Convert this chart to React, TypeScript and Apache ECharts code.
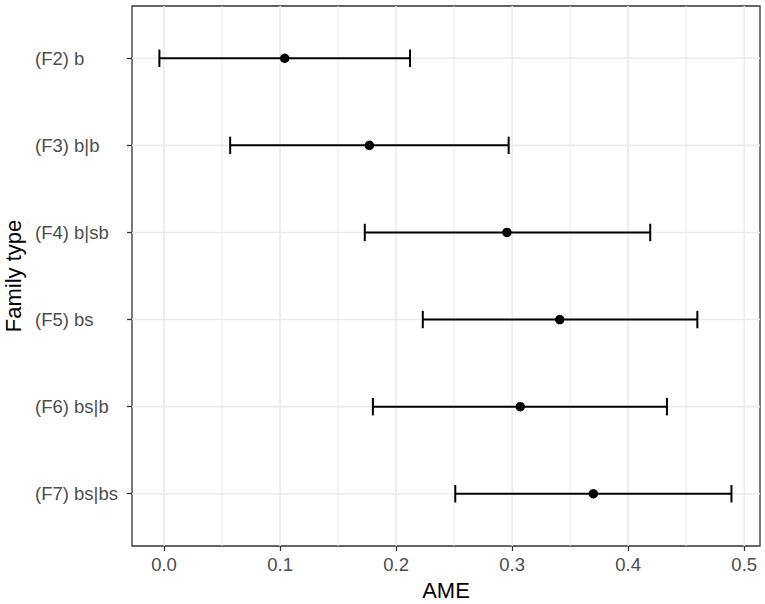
import React, { useEffect, useRef } from "react";
import * as echarts from "echarts";

const categories = ["(F2) b", "(F3) b|b", "(F4) b|sb", "(F5) bs", "(F6) bs|b", "(F7) bs|bs"];
const estimates = [0.104, 0.177, 0.2955, 0.341, 0.307, 0.370];
const lowerCI = [-0.004, 0.057, 0.173, 0.223, 0.180, 0.251];
const upperCI = [0.212, 0.297, 0.419, 0.4596, 0.4334, 0.489];
const xTicks = [0, 0.1, 0.2, 0.3, 0.4, 0.5];
const xMinorTicks = [0.05, 0.15, 0.25, 0.35, 0.45];
const xName = "AME";
const yName = "Family type";

const FONT = "'Liberation Sans', Arial, sans-serif";
const X_MIN = -0.0276;
const X_MAX = 0.5136;
const Y_MIN = -0.6;
const Y_MAX = categories.length - 1 + 0.6;
const CAP = 0.1;

export default function App() {
  const ref = useRef<HTMLDivElement>(null);
  useEffect(() => {
    if (!ref.current) return;
    const chart = echarts.init(ref.current, undefined, { renderer: "svg" });
    const catIdx = categories.map((_, i) => i);
    const vLine = (major: boolean) => (params: any, api: any) => {
      const v = api.value(0);
      const p1 = api.coord([v, Y_MIN]);
      const p2 = api.coord([v, Y_MAX]);
      return {
        type: "line",
        shape: { x1: p1[0], y1: p1[1], x2: p2[0], y2: p2[1] },
        style: { stroke: "#ebebeb", lineWidth: major ? 1.6 : 1 },
      };
    };
    chart.setOption({
      animation: false,
      backgroundColor: "#ffffff",
      grid: {
        left: 132,
        right: 5,
        top: 6,
        bottom: 58,
        show: true,
        borderColor: "#333333",
        borderWidth: 1.3,
        backgroundColor: "transparent",
        containLabel: false,
        outerBoundsMode: "none",
      },
      xAxis: {
        type: "value",
        min: X_MIN,
        max: X_MAX,
        name: xName,
        nameLocation: "middle",
        nameGap: 33,
        nameTextStyle: { fontSize: 22, color: "#000", fontFamily: FONT },
        axisLine: { show: false, onZero: false },
        splitLine: { show: false },
        axisTick: {
          show: true,
          length: 5,
          lineStyle: { color: "#333333", width: 1.3 },
          customValues: xTicks,
        },
        axisLabel: {
          customValues: xTicks,
          fontSize: 18.5,
          color: "#4d4d4d",
          fontFamily: FONT,
          margin: 9,
          formatter: (v: number) => v.toFixed(1),
        },
      },
      yAxis: {
        type: "value",
        min: Y_MIN,
        max: Y_MAX,
        inverse: true,
        name: yName,
        nameLocation: "middle",
        nameGap: 106,
        nameTextStyle: { fontSize: 22, color: "#000", fontFamily: FONT },
        axisLine: { show: false, onZero: false },
        splitLine: { show: false },
        axisTick: {
          show: true,
          length: 5,
          lineStyle: { color: "#333333", width: 1.3 },
          customValues: catIdx,
        },
        axisLabel: {
          customValues: catIdx,
          margin: 7,
          formatter: (v: number) => `{a|${categories[Math.round(v)]}}`,
          rich: {
            a: { width: 90, align: "left", fontSize: 18.5, color: "#4d4d4d", fontFamily: FONT },
          },
        },
      },
      series: [
        {
          type: "custom",
          silent: true,
          z: 1,
          data: xMinorTicks.map((v) => [v]),
          renderItem: vLine(false),
        },
        {
          type: "custom",
          silent: true,
          z: 1,
          data: xTicks.map((v) => [v]),
          renderItem: vLine(true),
        },
        {
          type: "custom",
          silent: true,
          z: 1,
          data: catIdx.map((i) => [i]),
          renderItem: (params: any, api: any) => {
            const i = api.value(0);
            const p1 = api.coord([X_MIN, i]);
            const p2 = api.coord([X_MAX, i]);
            return {
              type: "line",
              shape: { x1: p1[0], y1: p1[1], x2: p2[0], y2: p2[1] },
              style: { stroke: "#ebebeb", lineWidth: 1.6 },
            };
          },
        },
        {
          type: "custom",
          z: 3,
          data: catIdx.map((i) => [i, lowerCI[i], upperCI[i]]),
          renderItem: (params: any, api: any) => {
            const i = api.value(0);
            const lo = api.value(1);
            const hi = api.value(2);
            const a = api.coord([lo, i]);
            const b = api.coord([hi, i]);
            const la = api.coord([lo, i - CAP]);
            const lb = api.coord([lo, i + CAP]);
            const ha = api.coord([hi, i - CAP]);
            const hb = api.coord([hi, i + CAP]);
            const st = { stroke: "#000", lineWidth: 2 };
            return {
              type: "group",
              children: [
                { type: "line", shape: { x1: a[0], y1: a[1], x2: b[0], y2: b[1] }, style: st },
                { type: "line", shape: { x1: la[0], y1: la[1], x2: lb[0], y2: lb[1] }, style: st },
                { type: "line", shape: { x1: ha[0], y1: ha[1], x2: hb[0], y2: hb[1] }, style: st },
              ],
            };
          },
          encode: { x: [1, 2], y: 0 },
        },
        {
          type: "scatter",
          z: 4,
          symbol: "circle",
          symbolSize: 9.5,
          itemStyle: { color: "#000", opacity: 1 },
          data: catIdx.map((i) => [estimates[i], i]),
        },
      ],
    });
    return () => chart.dispose();
  }, []);
  return (
    <div
      ref={ref}
      style={{ position: "absolute", left: 0, top: 0, width: 765, height: 604 }}
    />
  );
}
